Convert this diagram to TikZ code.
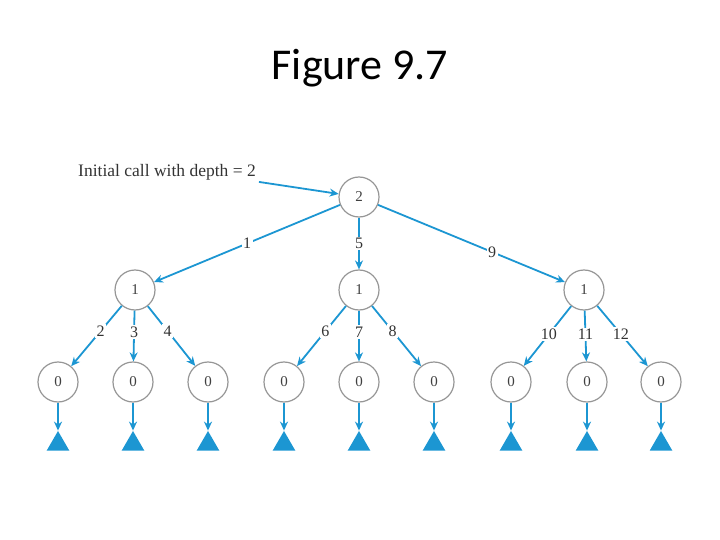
\documentclass[tikz,border=0pt]{standalone}
\usepackage{fontspec}
\setmainfont{Liberation Serif}
\newfontfamily\titlefont{Carlito}
\usetikzlibrary{shapes.geometric,arrows.meta}
\definecolor{edgeblue}{RGB}{28,150,210}
\definecolor{ringgray}{RGB}{150,150,150}
\tikzset{
  x=1pt,y=-1pt,
  state/.style={circle,draw=ringgray,line width=1.2pt,minimum size=40pt,inner sep=0pt,font=\fontsize{15}{15}\selectfont,text=black!75},
  term/.style={regular polygon,regular polygon sides=3,fill=edgeblue,minimum size=26pt,inner sep=0pt},
  link/.style={draw=edgeblue,line width=1.8pt,-{Stealth[length=9pt,width=8pt]}},
  lbl/.style={fill=white,inner sep=1.5pt,font=\fontsize{16}{16}\selectfont,text=black!80}
}
\begin{document}
\begin{tikzpicture}
\useasboundingbox (0,0) rectangle (720,540);
\node[font=\titlefont\fontsize{44}{44}\selectfont] (title) at (360,68) {Figure 9.7};
\node[font=\fontsize{17.5}{17.5}\selectfont,text=black!80,anchor=base west,inner sep=0pt] (init) at (78,177) {Initial call with depth = 2};
\node[state] (r) at (359,197) {2};
\node[state] (a) at (135,290) {1};
\node[state] (b) at (359,290) {1};
\node[state] (c) at (584,290) {1};
\foreach \n/\x in {a1/58,a2/133,a3/208,b1/284,b2/359,b3/434,c1/511,c2/587,c3/661}{
  \node[state] (\n) at (\x,382) {0};
  \node[term] (t\n) at (\x,444) {};
  \draw[link] (\n) -- (t\n);
}
\draw[link] ([xshift=3pt,yshift=-1pt]init.south east) -- (r);
\draw[link] (r) -- node[lbl,pos=0.5] {1} (a);
\draw[link] (r) -- node[lbl,pos=0.5] {5} (b);
\draw[link] (r) -- node[lbl,pos=0.61] {9} (c);
\draw[link] (a) -- node[lbl,pos=0.42] {2} (a1);
\draw[link] (a) -- node[lbl,pos=0.42] {3} (a2);
\draw[link] (a) -- node[lbl,pos=0.42] {4} (a3);
\draw[link] (b) -- node[lbl,pos=0.42] {6} (b1);
\draw[link] (b) -- node[lbl,pos=0.42] {7} (b2);
\draw[link] (b) -- node[lbl,pos=0.42] {8} (b3);
\draw[link] (c) -- node[lbl,pos=0.47] {10} (c1);
\draw[link] (c) -- node[lbl,pos=0.47] {11} (c2);
\draw[link] (c) -- node[lbl,pos=0.47] {12} (c3);
\end{tikzpicture}
\end{document}
